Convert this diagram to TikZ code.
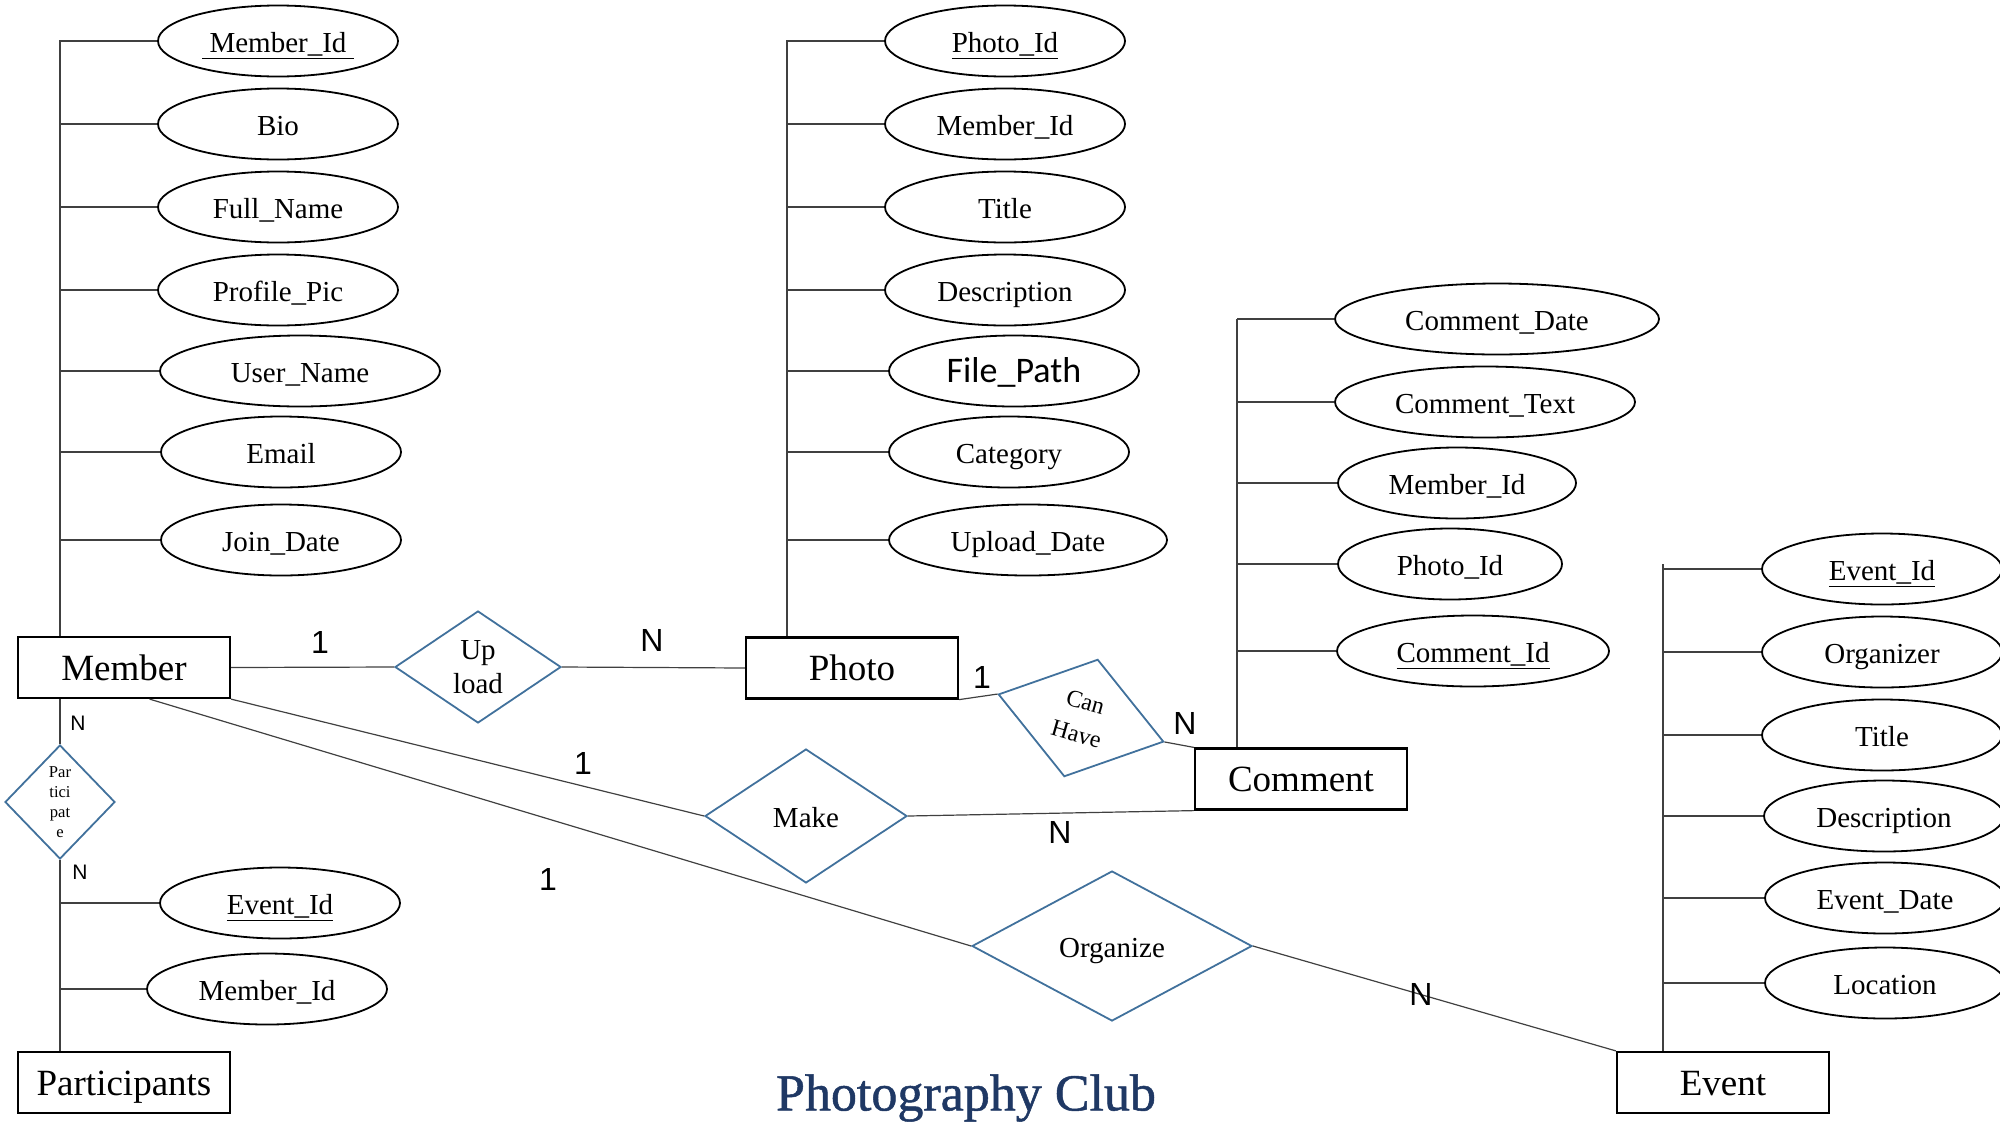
\documentclass[tikz,border=0pt]{standalone}
\usepackage{fontspec}
\setmainfont{Liberation Serif}
\newfontfamily\cardfont{Liberation Sans}
\newfontfamily\pathfont{Carlito}
\newfontfamily\titlefont[FakeBold=1]{Liberation Serif}
\usetikzlibrary{shapes.geometric}
\definecolor{relblue}{HTML}{41719C}
\definecolor{titleblue}{HTML}{1F3864}

\begin{document}
\begin{tikzpicture}[x=0.5pt,y=-0.5pt,
  entity/.style={draw=black,line width=1.1pt,rectangle,minimum width=106pt,minimum height=30.5pt,inner sep=0pt,text height=12.6pt,text depth=0pt,font=\fontsize{18.5}{20}\selectfont},
  attr/.style={draw=black,line width=0.9pt,ellipse,minimum width=120pt,minimum height=35.5pt,inner sep=0pt,text height=14pt,text depth=3pt,font=\fontsize{14.5}{16}\selectfont},
  rel/.style={draw=relblue,line width=0.9pt,diamond,inner sep=0pt,align=center,font=\fontsize{14.5}{17}\selectfont},
  oneline/.style={text height=14pt,text depth=3pt},
  link/.style={draw=black!75,line width=0.6pt},
  card/.style={font=\cardfont\fontsize{16}{18}\selectfont},
  smallcard/.style={font=\cardfont\fontsize{10.5}{12}\selectfont}]

\useasboundingbox (0,0) rectangle (2000,1125);

% entities
\node[entity] (member) at (124,667.5) {Member};
\node[entity] (photo) at (852,668) {Photo};
\node[entity] (comment) at (1301,779) {Comment};
\node[entity] (participants) at (124,1082.5) {Participants};
\node[entity] (event) at (1723,1082.5) {Event};

% relationships
\node[rel,aspect=1.48,minimum width=83pt,minimum height=56pt] (upload) at (478,667) {Up\\load};
\node[rel,aspect=1,minimum width=55pt,minimum height=57pt,font=\fontsize{8.3}{10}\selectfont] (part) at (60,802) {Par\\tici\\pat\\e};
\node[rel,rotate=-16,aspect=1.41,minimum width=86pt,minimum height=61pt,font=\fontsize{12}{16.5}\selectfont] (canhave) at (1081,718) {Can\\Have};
\node[rel,oneline,aspect=1.5,minimum width=101pt,minimum height=67pt] (make) at (806,816) {Make};
\node[rel,oneline,aspect=1.87,minimum width=140pt,minimum height=75pt] (organize) at (1112,946) {Organize};

% member attributes
\node[attr] (m1) at (278,41) {\underline{~Member\_Id~}};
\node[attr] (m2) at (278,124) {Bio};
\node[attr] (m3) at (278,207) {Full\_Name};
\node[attr] (m4) at (278,290) {Profile\_Pic};
\node[attr,minimum width=140pt] (m5) at (300,371) {User\_Name};
\node[attr] (m6) at (281,452) {Email};
\node[attr] (m7) at (281,540) {Join\_Date};

% participants attributes
\node[attr] (pa1) at (280,903) {\underline{Event\_Id}};
\node[attr] (pa2) at (267,989) {Member\_Id};

% photo attributes
\node[attr] (p1) at (1005,41) {\underline{Photo\_Id}};
\node[attr] (p2) at (1005,124) {Member\_Id};
\node[attr] (p3) at (1005,207) {Title};
\node[attr] (p4) at (1005,290) {Description};
\node[attr,minimum width=125pt,font=\pathfont\fontsize{18}{20}\selectfont] (p5) at (1014,371) {File\_Path};
\node[attr] (p6) at (1009,452) {Category};
\node[attr,minimum width=139pt] (p7) at (1028,540) {Upload\_Date};

% comment attributes
\node[attr,minimum width=162pt] (c1) at (1497,319) {Comment\_Date};
\node[attr,minimum width=150pt] (c2) at (1485,402) {Comment\_Text};
\node[attr,minimum width=119pt] (c3) at (1457,483) {Member\_Id};
\node[attr,minimum width=112pt] (c4) at (1450,564) {Photo\_Id};
\node[attr,minimum width=136pt] (c5) at (1473,651) {\underline{Comment\_Id}};

% event attributes
\node[attr] (e1) at (1882,569) {\underline{Event\_Id}};
\node[attr] (e2) at (1882,652) {Organizer};
\node[attr] (e3) at (1882,735) {Title};
\node[attr] (e4) at (1884,816) {Description};
\node[attr] (e5) at (1885,898) {Event\_Date};
\node[attr] (e6) at (1885,983) {Location};

% spines
\coordinate (mtop) at (60,40);
\coordinate (ptop) at (787,40);
\coordinate (ctop) at (1237,319);
\coordinate (etop) at (1663,564);

\draw[link] (mtop) -- (member.north -| mtop);
\draw[link] (m1.west) -- (m1.west -| mtop);
\draw[link] (m2.west) -- (m2.west -| mtop);
\draw[link] (m3.west) -- (m3.west -| mtop);
\draw[link] (m4.west) -- (m4.west -| mtop);
\draw[link] (m5.west) -- (m5.west -| mtop);
\draw[link] (m6.west) -- (m6.west -| mtop);
\draw[link] (m7.west) -- (m7.west -| mtop);

\draw[link] (member.south -| part) -- (part.north);
\draw[link] (part.south) -- (participants.north -| part);
\draw[link] (pa1.west) -- (pa1.west -| part);
\draw[link] (pa2.west) -- (pa2.west -| part);

\draw[link] (ptop) -- (photo.north -| ptop);
\draw[link] (p1.west) -- (p1.west -| ptop);
\draw[link] (p2.west) -- (p2.west -| ptop);
\draw[link] (p3.west) -- (p3.west -| ptop);
\draw[link] (p4.west) -- (p4.west -| ptop);
\draw[link] (p5.west) -- (p5.west -| ptop);
\draw[link] (p6.west) -- (p6.west -| ptop);
\draw[link] (p7.west) -- (p7.west -| ptop);

\draw[link] (ctop) -- (comment.north -| ctop);
\draw[link] (c1.west) -- (c1.west -| ctop);
\draw[link] (c2.west) -- (c2.west -| ctop);
\draw[link] (c3.west) -- (c3.west -| ctop);
\draw[link] (c4.west) -- (c4.west -| ctop);
\draw[link] (c5.west) -- (c5.west -| ctop);

\draw[link] (etop) -- (event.north -| etop);
\draw[link] (e1.west) -- (e1.west -| etop);
\draw[link] (e2.west) -- (e2.west -| etop);
\draw[link] (e3.west) -- (e3.west -| etop);
\draw[link] (e4.west) -- (e4.west -| etop);
\draw[link] (e5.west) -- (e5.west -| etop);
\draw[link] (e6.west) -- (e6.west -| etop);

% relationship links
\draw[link] (member.east) -- (upload.west);
\draw[link] (upload.east) -- (photo.west);
\draw[link] (photo.south east) -- (canhave.west);
\draw[link] (canhave.east) -- (comment.north west);
\draw[link] (member.south east) -- (make.west);
\draw[link] (make.east) -- (comment.south west);
\draw[link] (member.-51) -- (organize.west);
\draw[link] (organize.east) -- (event.north west);

% cardinalities
\node[card] (upone) at (320,642) {1};
\node[card] (upn) at (652,640) {N};
\node[card] (canone) at (982,677) {1};
\node[card] (cann) at (1185,723) {N};
\node[card] (makeone) at (583,763) {1};
\node[card] (maken) at (1060,832) {N};
\node[card] (orgone) at (548,879) {1};
\node[card] (orgn) at (1421,994) {N};
\node[smallcard] (partn1) at (78,723) {N};
\node[smallcard] (partn2) at (80,872) {N};

\node[text=titleblue,font=\titlefont\fontsize{26}{30}\selectfont] (title) at (966,1098) {Photography Club};

\end{tikzpicture}
\end{document}
